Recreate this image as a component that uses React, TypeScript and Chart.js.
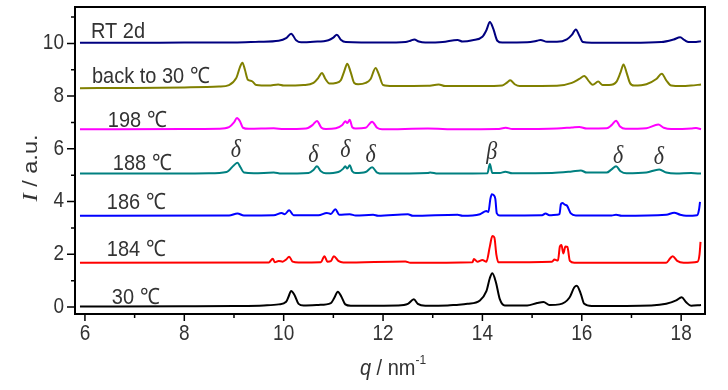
import { useEffect, useRef } from 'react';
import { Chart, registerables } from 'chart.js';

Chart.register(...registerables);

// ---- data (q in nm^-1, intensity in a.u.) ----
const RT2D: number[][] = [[5.9,10.02],[7,10.02],[8,10.03],[9,10.03],[9.5,10.06],[9.9,10.1],[10.05,10.2],[10.15,10.37],[10.25,10.12],[10.35,10.04],[10.6,10.06],[10.9,10.12],[11.0,10.22],[11.07,10.33],[11.15,10.14],[11.25,10.05],[12.0,10.03],[12.45,10.05],[12.55,10.1],[12.63,10.15],[12.72,10.07],[12.85,10.03],[13.2,10.05],[13.5,10.13],[13.6,10.07],[13.8,10.12],[14.0,10.25],[14.08,10.5],[14.15,10.81],[14.22,10.55],[14.3,10.1],[14.4,10.03],[14.9,10.04],[15.1,10.1],[15.17,10.13],[15.3,10.06],[15.5,10.06],[15.7,10.15],[15.8,10.32],[15.88,10.53],[15.95,10.3],[16.02,10.05],[16.2,10.02],[17.0,10.02],[17.6,10.05],[17.85,10.15],[17.98,10.23],[18.07,10.12],[18.15,10.05],[18.3,10.05],[18.4,10.08]];
const BACK30: number[][] = [[5.9,8.3],[7,8.31],[8,8.33],[8.7,8.36],[8.9,8.42],[9.05,8.7],[9.12,9.1],[9.17,9.27],[9.22,9.0],[9.28,8.62],[9.36,8.57],[9.45,8.42],[9.7,8.4],[9.89,8.44],[10.0,8.4],[10.4,8.42],[10.6,8.5],[10.7,8.7],[10.77,8.88],[10.84,8.65],[10.92,8.48],[11.05,8.5],[11.15,8.6],[11.22,8.95],[11.28,9.23],[11.35,8.9],[11.42,8.5],[11.5,8.45],[11.65,8.5],[11.75,8.65],[11.85,9.07],[11.92,8.8],[12.0,8.42],[12.2,8.38],[12.9,8.39],[13.12,8.44],[13.25,8.38],[14.0,8.38],[14.4,8.4],[14.5,8.52],[14.56,8.6],[14.65,8.45],[14.75,8.38],[15.5,8.39],[15.8,8.5],[15.95,8.65],[16.05,8.76],[16.15,8.55],[16.22,8.43],[16.33,8.55],[16.42,8.42],[16.55,8.42],[16.7,8.55],[16.78,8.9],[16.84,9.2],[16.9,8.9],[16.97,8.5],[17.05,8.4],[17.3,8.45],[17.5,8.65],[17.61,8.85],[17.7,8.6],[17.8,8.4],[18.0,8.38],[18.2,8.4],[18.4,8.44]];
const T198: number[][] = [[5.9,6.74],[8.0,6.75],[8.7,6.76],[8.9,6.82],[9.0,7.0],[9.06,7.17],[9.12,7.05],[9.18,6.8],[9.3,6.76],[9.8,6.78],[10.0,6.75],[10.45,6.77],[10.58,6.9],[10.67,7.06],[10.76,6.8],[10.85,6.75],[11.05,6.78],[11.18,6.9],[11.24,7.05],[11.28,6.98],[11.33,7.1],[11.38,6.82],[11.45,6.77],[11.65,6.8],[11.78,7.03],[11.88,6.8],[11.98,6.74],[12.9,6.77],[13.5,6.74],[14.3,6.75],[14.47,6.8],[14.6,6.75],[15.5,6.77],[15.8,6.81],[15.95,6.83],[16.1,6.77],[16.5,6.78],[16.6,6.9],[16.69,7.07],[16.77,6.85],[16.88,6.76],[17.3,6.78],[17.54,6.92],[17.65,6.8],[17.8,6.75],[18.2,6.77],[18.3,6.79],[18.4,6.74]];
const T188: number[][] = [[5.9,5.06],[8.5,5.07],[8.85,5.12],[9.0,5.38],[9.07,5.47],[9.13,5.3],[9.2,5.1],[9.4,5.07],[9.8,5.1],[9.95,5.06],[10.5,5.08],[10.6,5.2],[10.67,5.34],[10.75,5.15],[10.85,5.07],[11.1,5.12],[11.2,5.25],[11.24,5.34],[11.28,5.25],[11.33,5.38],[11.38,5.15],[11.45,5.08],[11.65,5.12],[11.78,5.3],[11.88,5.1],[12.0,5.06],[12.9,5.08],[12.95,5.1],[13.1,5.06],[14.1,5.07],[14.15,5.42],[14.2,5.08],[14.35,5.08],[14.46,5.13],[14.6,5.07],[15.4,5.08],[15.8,5.14],[15.98,5.18],[16.1,5.1],[16.5,5.1],[16.6,5.22],[16.69,5.34],[16.78,5.15],[16.9,5.07],[17.3,5.1],[17.56,5.22],[17.7,5.1],[17.9,5.06],[18.2,5.08],[18.4,5.06]];
const T186: number[][] = [[5.9,3.46],[8.9,3.47],[9.07,3.55],[9.2,3.47],[9.8,3.48],[9.96,3.57],[10.02,3.52],[10.11,3.67],[10.2,3.48],[10.7,3.48],[10.87,3.57],[10.95,3.53],[11.04,3.71],[11.12,3.5],[11.33,3.52],[11.45,3.47],[11.8,3.5],[11.9,3.46],[12.5,3.52],[12.6,3.46],[13.5,3.5],[13.6,3.46],[13.95,3.52],[14.08,3.64],[14.12,3.6],[14.16,4.1],[14.19,4.28],[14.23,4.24],[14.26,4.1],[14.29,3.55],[14.35,3.47],[15.2,3.48],[15.27,3.55],[15.35,3.48],[15.5,3.5],[15.55,3.52],[15.58,3.9],[15.61,3.95],[15.66,3.88],[15.7,3.85],[15.78,3.55],[15.88,3.47],[16.6,3.47],[16.69,3.5],[16.8,3.46],[17.7,3.5],[17.86,3.58],[17.98,3.5],[18.1,3.46],[18.32,3.48],[18.36,3.7],[18.38,3.99]];
const T184: number[][] = [[5.9,1.68],[9.7,1.69],[9.78,1.83],[9.82,1.7],[9.9,1.75],[9.98,1.72],[10.05,1.8],[10.11,1.91],[10.18,1.72],[10.3,1.69],[10.75,1.7],[10.82,1.93],[10.88,1.72],[10.95,1.74],[11.01,1.93],[11.1,1.75],[11.2,1.69],[12.45,1.73],[12.55,1.68],[13.8,1.7],[13.83,1.82],[13.9,1.72],[14.0,1.78],[14.08,1.72],[14.15,2.3],[14.2,2.69],[14.24,2.64],[14.28,2.0],[14.32,1.7],[15.4,1.72],[15.45,1.8],[15.52,1.76],[15.56,2.3],[15.59,2.35],[15.63,2.03],[15.67,2.3],[15.71,2.28],[15.76,1.75],[15.85,1.68],[17.7,1.68],[17.78,1.85],[17.83,1.93],[17.92,1.75],[18.05,1.68],[18.33,1.72],[18.37,2.0],[18.39,2.47]];
const T30: number[][] = [[5.9,0.02],[8.0,0.03],[9.0,0.04],[9.6,0.06],[9.9,0.1],[10.05,0.2],[10.1,0.4],[10.15,0.61],[10.22,0.45],[10.3,0.12],[10.4,0.06],[10.7,0.08],[10.95,0.15],[11.02,0.35],[11.09,0.58],[11.16,0.4],[11.24,0.1],[11.35,0.05],[12.3,0.06],[12.5,0.12],[12.62,0.29],[12.7,0.12],[12.85,0.05],[13.3,0.06],[13.45,0.08],[13.7,0.12],[13.95,0.25],[14.08,0.6],[14.15,1.1],[14.2,1.28],[14.27,0.95],[14.35,0.3],[14.45,0.06],[14.9,0.06],[15.1,0.15],[15.23,0.19],[15.35,0.08],[15.55,0.1],[15.75,0.35],[15.85,0.75],[15.9,0.81],[15.98,0.5],[16.05,0.12],[16.2,0.04],[17.4,0.06],[17.7,0.12],[17.9,0.25],[18.01,0.37],[18.1,0.18],[18.2,0.05],[18.4,0.08]];

const SERIES_NAMES = ['RT 2d', 'back to 30 ℃', '198 ℃', '188 ℃', '186 ℃', '184 ℃', '30 ℃'];
const SERIES_DATA = [RT2D, BACK30, T198, T188, T186, T184, T30];
const SERIES_COLORS = ['#000080', '#808000', '#ff00ff', '#008080', '#0000ff', '#ff0000', '#000000'];
// label anchor positions (q, I) for each series name
const NAME_POS: number[][] = [[6.12, 10.42], [6.14, 8.75], [6.46, 7.08], [6.56, 5.45], [6.44, 3.94], [6.44, 2.16], [6.54, 0.34]];

const PEAK_LABELS = ['δ', 'δ', 'δ', 'δ', 'β', 'δ', 'δ'];
const PEAK_POS: number[][] = [[9.04, 5.95], [10.6, 5.76], [11.24, 5.95], [11.75, 5.76], [14.19, 5.87], [16.73, 5.72], [17.55, 5.68]];

const X_MAJOR = [6, 8, 10, 12, 14, 16, 18];
const X_MINOR = [7, 9, 11, 13, 15, 17];
const Y_MAJOR = [0, 2, 4, 6, 8, 10];
const Y_MINOR = [1, 3, 5, 7, 9, 11];
const X_RANGE = [5.8, 18.48];
const Y_RANGE = [-0.265, 11.38];

const SANS = '"Liberation Sans", Arial, sans-serif';
const SERIF = '"Liberation Serif", "Times New Roman", serif';
const TEXT = '#333333';
const STRETCH = 1.12;

function txt(ctx: CanvasRenderingContext2D, s: string, x: number, y: number, font: string, align: CanvasTextAlign) {
  ctx.save();
  ctx.translate(x, y);
  ctx.scale(1, STRETCH);
  ctx.font = font;
  ctx.textAlign = align;
  ctx.textBaseline = 'middle';
  ctx.fillText(s, 0, 0);
  ctx.restore();
}

const decor = {
  id: 'decor',
  afterDraw(chart: any) {
    const { ctx, chartArea: a, scales } = chart;
    const xs = scales.x, ys = scales.y;
    ctx.save();
    // frame
    ctx.strokeStyle = '#000';
    ctx.lineWidth = 2;
    ctx.strokeRect(a.left, a.top, a.right - a.left, a.bottom - a.top);
    // ticks
    ctx.lineWidth = 1.5;
    ctx.beginPath();
    X_MAJOR.forEach(v => { const p = xs.getPixelForValue(v); ctx.moveTo(p, a.bottom); ctx.lineTo(p, a.bottom + 7); });
    X_MINOR.forEach(v => { const p = xs.getPixelForValue(v); ctx.moveTo(p, a.bottom); ctx.lineTo(p, a.bottom + 4); });
    Y_MAJOR.forEach(v => { const p = ys.getPixelForValue(v); ctx.moveTo(a.left, p); ctx.lineTo(a.left - 8, p); });
    Y_MINOR.forEach(v => { const p = ys.getPixelForValue(v); ctx.moveTo(a.left, p); ctx.lineTo(a.left - 4, p); });
    ctx.stroke();

    ctx.fillStyle = TEXT;
    // tick labels
    X_MAJOR.forEach(v => txt(ctx, String(v), xs.getPixelForValue(v), a.bottom + 20, '19px ' + SANS, 'center'));
    Y_MAJOR.forEach(v => txt(ctx, String(v), a.left - 11, ys.getPixelForValue(v), '19px ' + SANS, 'right'));

    // series names
    SERIES_NAMES.forEach((n, i) => {
      txt(ctx, n, xs.getPixelForValue(NAME_POS[i][0]), ys.getPixelForValue(NAME_POS[i][1]), '20px ' + SANS, 'left');
    });
    // peak labels
    PEAK_LABELS.forEach((n, i) => {
      txt(ctx, n, xs.getPixelForValue(PEAK_POS[i][0]), ys.getPixelForValue(PEAK_POS[i][1]), 'italic 22px ' + SERIF, 'center');
    });

    // y title
    ctx.save();
    ctx.translate(31, 168);
    ctx.rotate(-Math.PI / 2);
    ctx.scale(STRETCH, 1);
    ctx.textAlign = 'left';
    ctx.textBaseline = 'middle';
    ctx.font = 'italic 22px ' + SERIF;
    const w1 = ctx.measureText('I').width;
    ctx.font = '21px ' + SANS;
    const w2 = ctx.measureText(' / a.u.').width;
    const sx = -(w1 + w2) / 2;
    ctx.font = 'italic 22px ' + SERIF;
    ctx.fillText('I', sx, 0);
    ctx.font = '21px ' + SANS;
    ctx.fillText(' / a.u.', sx + w1, 0);
    ctx.restore();

    // x title
    ctx.save();
    ctx.translate(0, 369);
    ctx.scale(1, STRETCH);
    ctx.textAlign = 'left';
    ctx.textBaseline = 'middle';
    ctx.font = 'italic 20px ' + SANS;
    const q1 = ctx.measureText('q').width;
    ctx.font = '20px ' + SANS;
    const q2 = ctx.measureText(' / nm').width;
    ctx.font = '12px ' + SANS;
    const q3 = ctx.measureText('-1').width;
    const x0 = 393 - (q1 + q2 + q3) / 2;
    ctx.font = 'italic 20px ' + SANS;
    ctx.fillText('q', x0, 0);
    ctx.font = '20px ' + SANS;
    ctx.fillText(' / nm', x0 + q1, 0);
    ctx.font = '12px ' + SANS;
    ctx.fillText('-1', x0 + q1 + q2, -8);
    ctx.restore();
    ctx.restore();
  },
};

export default function App() {
  const ref = useRef<HTMLCanvasElement>(null);
  useEffect(() => {
    document.body.style.margin = '0';
    const chart = new Chart(ref.current as HTMLCanvasElement, {
      type: 'line',
      data: {
        datasets: SERIES_DATA.map((d, i) => ({
          label: SERIES_NAMES[i],
          data: d.map(p => ({ x: p[0], y: p[1] })),
          borderColor: SERIES_COLORS[i],
          backgroundColor: SERIES_COLORS[i],
          borderWidth: 2,
          pointRadius: 0,
          cubicInterpolationMode: 'monotone' as const,
          fill: false,
        })),
      },
      options: {
        responsive: false,
        animation: false,
        devicePixelRatio: 1,
        layout: { padding: { top: 7, right: 23, left: 0, bottom: 0 } },
        plugins: { legend: { display: false }, tooltip: { enabled: false } },
        scales: {
          x: {
            type: 'linear',
            min: X_RANGE[0],
            max: X_RANGE[1],
            grid: { display: false },
            border: { display: false },
            afterBuildTicks: (s: any) => { s.ticks = X_MAJOR.map(v => ({ value: v })); },
            afterFit: (s: any) => { s.height = 76; },
            ticks: { display: false },
          },
          y: {
            type: 'linear',
            min: Y_RANGE[0],
            max: Y_RANGE[1],
            grid: { display: false },
            border: { display: false },
            afterBuildTicks: (s: any) => { s.ticks = Y_MAJOR.map(v => ({ value: v })); },
            afterFit: (s: any) => { s.width = 75; },
            ticks: { display: false },
          },
        },
      },
      plugins: [decor],
    });
    return () => chart.destroy();
  }, []);
  return (
    <div style={{ width: 728, height: 390, position: 'relative' }}>
      <canvas ref={ref} width={728} height={390} />
    </div>
  );
}
